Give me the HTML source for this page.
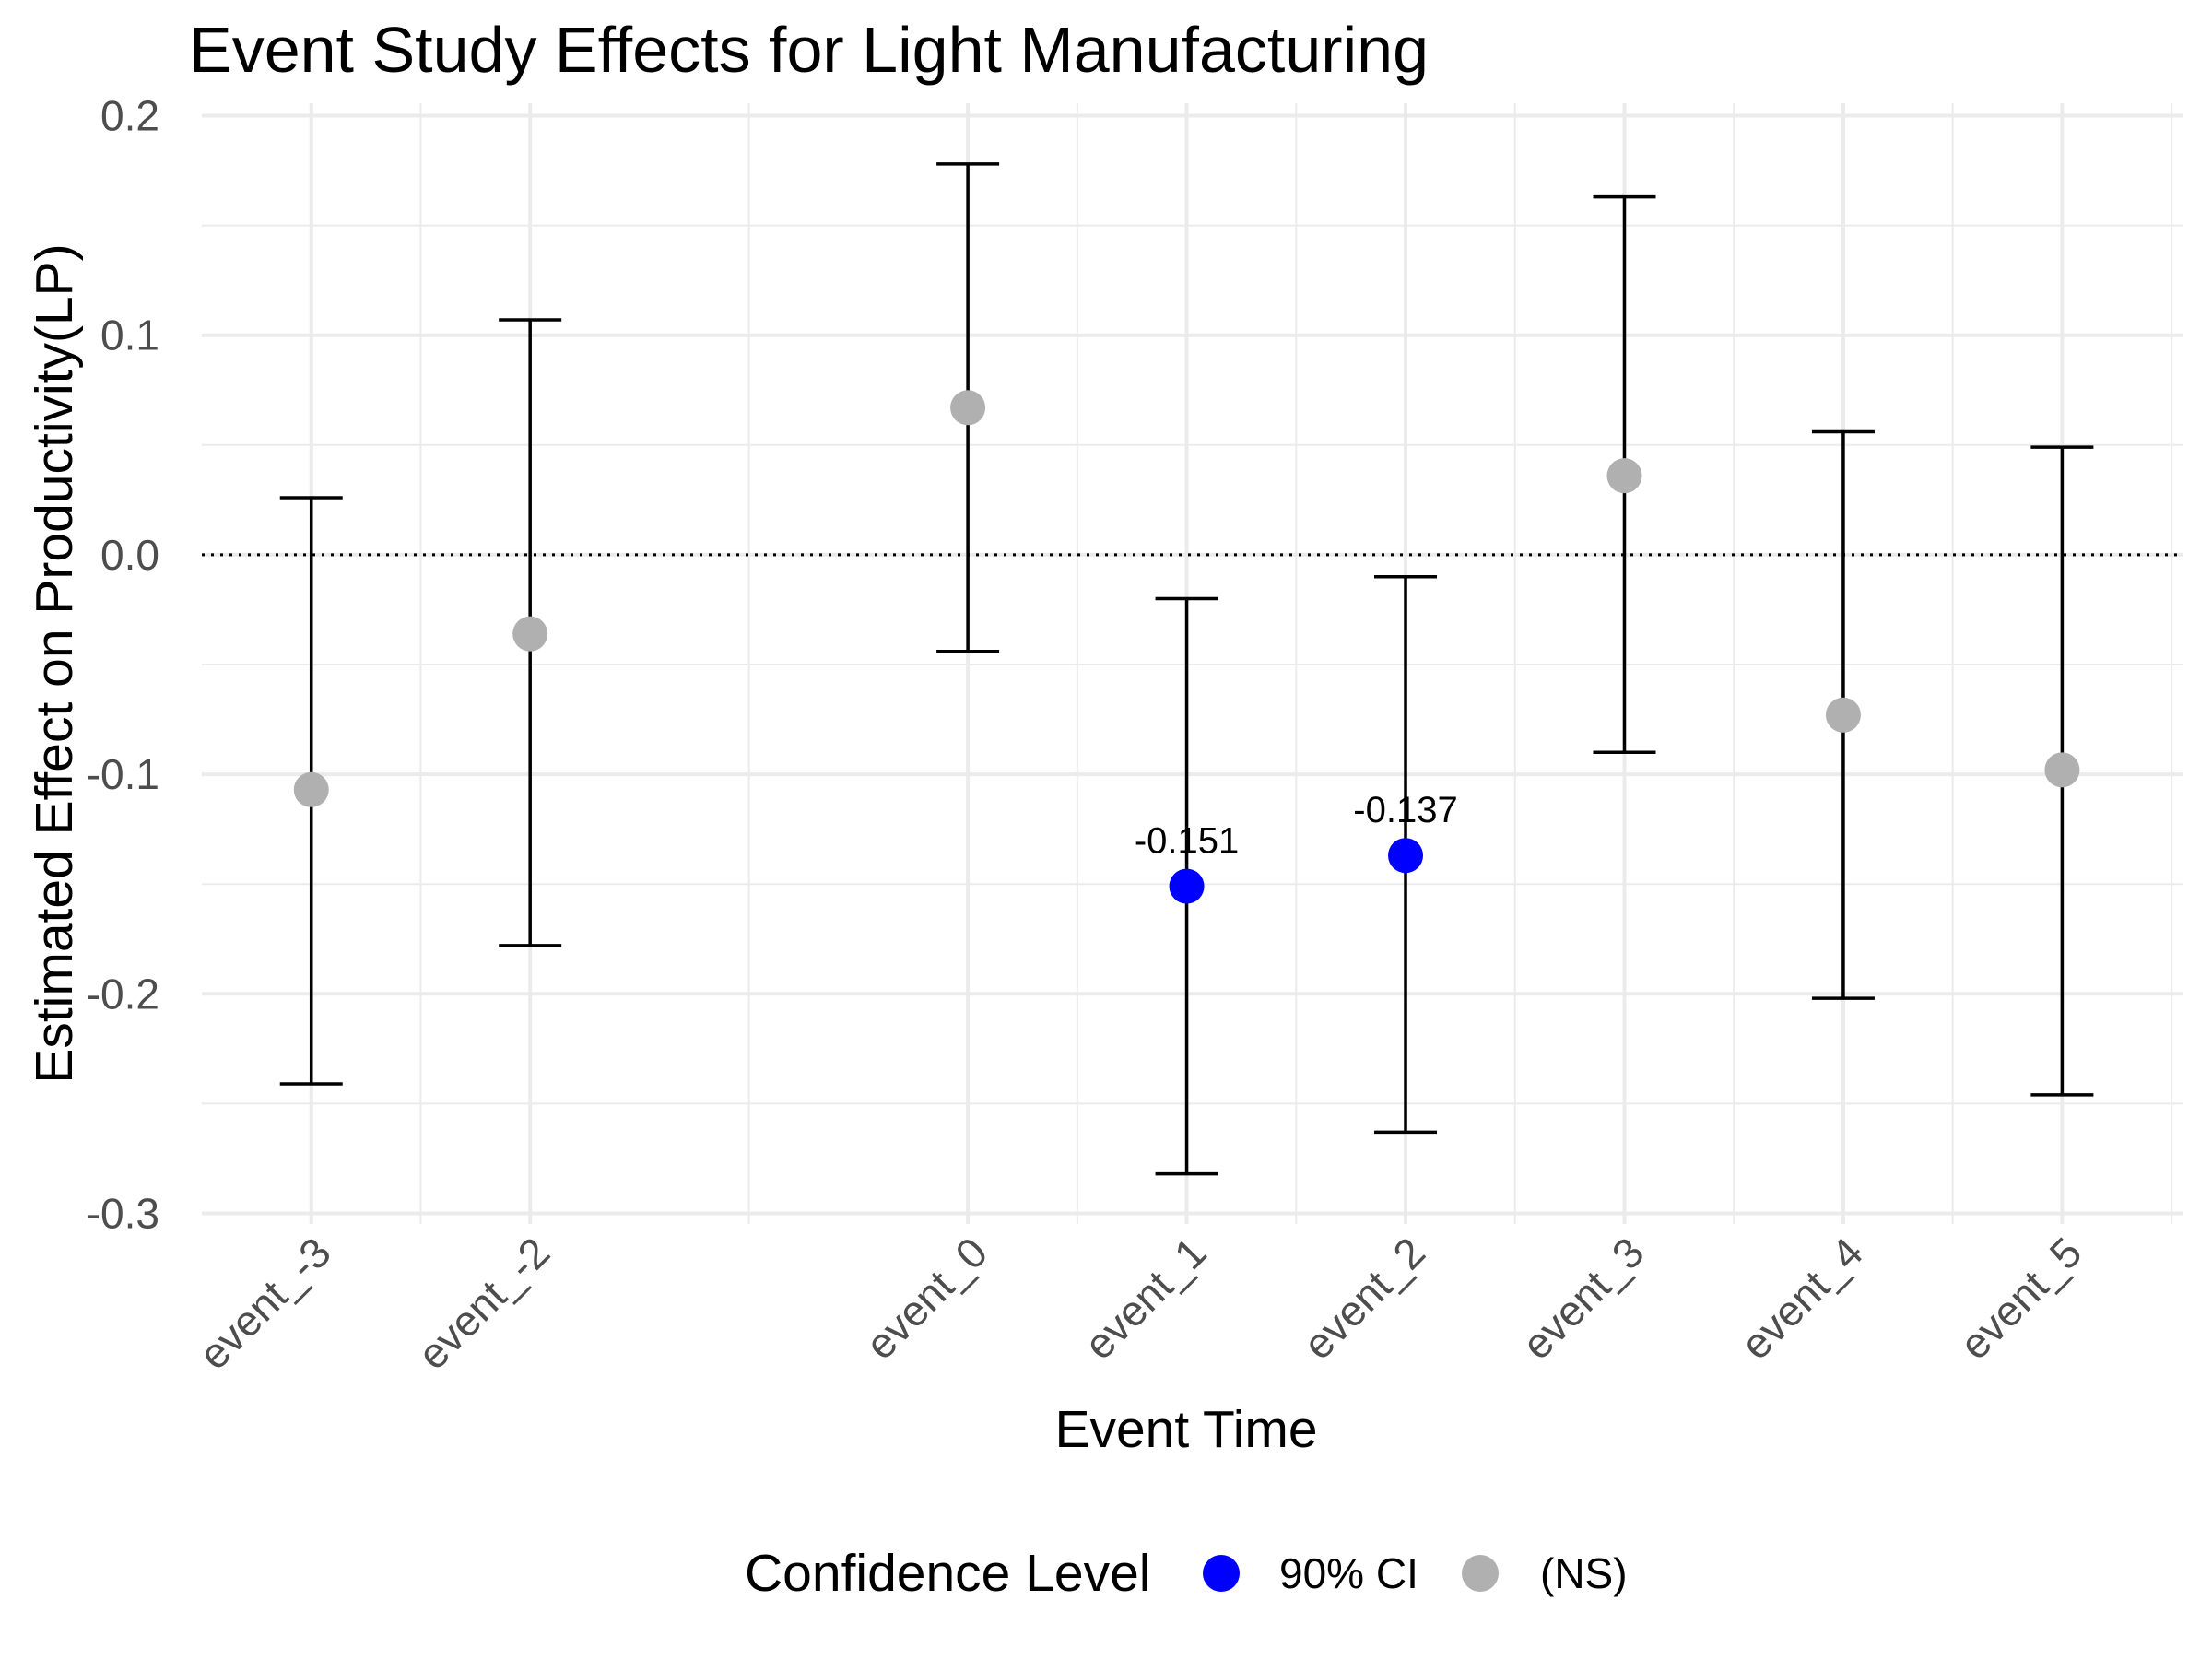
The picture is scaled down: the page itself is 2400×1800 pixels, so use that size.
<!DOCTYPE html>
<html><head><meta charset="utf-8"><style>
html,body{margin:0;padding:0;background:#fff}
svg{display:block;font-family:"Liberation Sans",Arial,sans-serif}
</style></head><body>
<svg id="chart" width="2400" height="1800" viewBox="0 0 2400 1800" xmlns="http://www.w3.org/2000/svg">
<rect width="2400" height="1800" fill="#fff"/>
<text x="205" y="78" font-size="70" fill="#000">Event Study Effects for Light Manufacturing</text>
<g id="grid"></g>
<g id="axes"></g>
<g id="marks"></g>
<text x="1287" y="1570" font-size="57" text-anchor="middle" fill="#000">Event Time</text>
<text transform="translate(78,720) rotate(-90)" font-size="57" text-anchor="middle" fill="#000">Estimated Effect on Productivity(LP)</text>
<g>
<text x="808" y="1726" font-size="57" fill="#000">Confidence Level</text>
<circle cx="1325" cy="1707" r="20" fill="#0000ff"/>
<text x="1388" y="1723" font-size="46" fill="#000">90% CI</text>
<circle cx="1606" cy="1707" r="20" fill="#b0b0b0"/>
<text x="1671" y="1723" font-size="46" fill="#000">(NS)</text>
</g>
</svg>
<script>
const categories = ["event_-3","event_-2","event_0","event_1","event_2","event_3","event_4","event_5"];
const eventTimes = [-3,-2,0,1,2,3,4,5];
const estimates = [-0.107,-0.036,0.067,-0.151,-0.137,0.036,-0.073,-0.098];
const lowerCI = [-0.241,-0.178,-0.044,-0.282,-0.263,-0.090,-0.202,-0.246];
const upperCI = [0.026,0.107,0.178,-0.020,-0.010,0.163,0.056,0.049];
const significant = [false,false,false,true,true,false,false,false];
const yTicks = [-0.3,-0.2,-0.1,0.0,0.1,0.2];
const yTickLabels = ["-0.3","-0.2","-0.1","0.0","0.1","0.2"];
const xMinor = [-2.5,-1,0.5,1.5,2.5,3.5,4.5,5.5];

const NS="http://www.w3.org/2000/svg";
const L=219,R=2368,T=112,B=1328;
const X0=-3.5,X1=5.55;
const xs=v=>L+(v-X0)/(X1-X0)*(R-L);
const ys=v=>125.5+(0.2-v)/0.5*(1316.5-125.5);
function mk(tag,attrs,parent){const e=document.createElementNS(NS,tag);for(const k in attrs)e.setAttribute(k,attrs[k]);parent.appendChild(e);return e;}
const grid=document.getElementById('grid'),axes=document.getElementById('axes'),marks=document.getElementById('marks');
for(let i=0;i<yTicks.length-1;i++){const v=(yTicks[i]+yTicks[i+1])/2;
 const l=mk('line',{x1:L,x2:R,y1:ys(v),y2:ys(v),stroke:'#ebebeb','stroke-width':2},grid);
 
 }
for(const v of xMinor){const l=mk('line',{x1:xs(v),x2:xs(v),y1:T,y2:B,stroke:'#ebebeb','stroke-width':2},grid);
 
 }
yTicks.forEach((v,i)=>{const l=mk('line',{x1:L,x2:R,y1:ys(v),y2:ys(v),stroke:'#ebebeb','stroke-width':4},grid);
 
 
 const t=mk('text',{x:173,y:ys(v)+16,'font-size':46,'text-anchor':'end',fill:'#4d4d4d'},axes);t.textContent=yTickLabels[i];
 
 });
eventTimes.forEach((v,i)=>{const l=mk('line',{x1:xs(v),x2:xs(v),y1:T,y2:B,stroke:'#ebebeb','stroke-width':4},grid);
 
 
 const tx=xs(v)+24,ty=1362;
 const t=mk('text',{x:tx,y:ty,'font-size':46,'text-anchor':'end',fill:'#4d4d4d',transform:`rotate(-45 ${tx} ${ty})`},axes);t.textContent=categories[i];
 
 });
const z=mk('line',{x1:L,x2:R,y1:ys(0),y2:ys(0),stroke:'#000','stroke-width':3,'stroke-dasharray':'3 7'},marks);


eventTimes.forEach((v,i)=>{const x=xs(v),cw=34;
 const g=mk('g',{},marks);
 
 
 mk('line',{x1:x,x2:x,y1:ys(lowerCI[i]),y2:ys(upperCI[i]),stroke:'#000','stroke-width':3.5},g);
 mk('line',{x1:x-cw,x2:x+cw,y1:ys(lowerCI[i]),y2:ys(lowerCI[i]),stroke:'#000','stroke-width':3.5},g);
 mk('line',{x1:x-cw,x2:x+cw,y1:ys(upperCI[i]),y2:ys(upperCI[i]),stroke:'#000','stroke-width':3.5},g);
 const c=mk('circle',{cx:x,cy:ys(estimates[i]),r:19,fill:significant[i]?'#0000ff':'#b0b0b0'},marks);
 
 
 if(significant[i]){const t=mk('text',{x:x,y:ys(estimates[i])-36,'font-size':40,'text-anchor':'middle',fill:'#000'},marks);
  t.textContent=estimates[i].toFixed(3);
  
  }
});
</script>
</body></html>
